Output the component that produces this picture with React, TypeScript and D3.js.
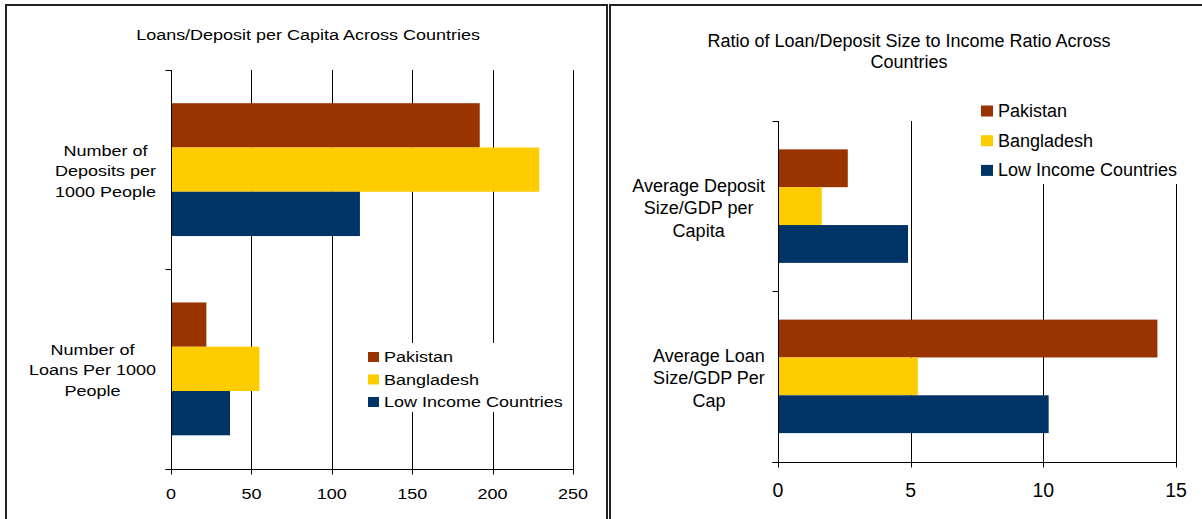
import React from "react";
import * as d3 from "d3";

// ---- data ----
const series = ["Pakistan", "Bangladesh", "Low Income Countries"];
const seriesColors = ["#993300", "#FFCC00", "#003366"];

const leftTitle = ["Loans/Deposit per Capita Across Countries"];
const leftCategories = ["Deposits", "Loans"];
const leftCategoryLines = [
  ["Number of", "Deposits per", "1000 People"],
  ["Number of", "Loans Per 1000", "People"],
];
const leftPakistan = [192, 22];
const leftBangladesh = [229, 55];
const leftLowIncome = [117.5, 36.7];
const leftTicks = [0, 50, 100, 150, 200, 250];

const rightTitle = ["Ratio of Loan/Deposit Size to Income Ratio Across", "Countries"];
const rightCategories = ["Deposit", "Loan"];
const rightCategoryLines = [
  ["Average Deposit", "Size/GDP per", "Capita"],
  ["Average Loan", "Size/GDP Per", "Cap"],
];
const rightPakistan = [2.63, 14.3];
const rightBangladesh = [1.65, 5.27];
const rightLowIncome = [4.9, 10.2];
const rightTicks = [0, 5, 10, 15];

const FONT = "'Liberation Sans', Arial, Helvetica, sans-serif";

let _ctx: CanvasRenderingContext2D | null = null;
function measure(text: string, size: number) {
  if (!_ctx) _ctx = document.createElement("canvas").getContext("2d");
  if (!_ctx) return text.length * size * 0.5;
  _ctx.font = `${size}px "Liberation Sans", Arial, sans-serif`;
  return _ctx.measureText(text).width;
}

function T({ x, y, sy, size, anchor = "start", children }: any) {
  return (
    <g transform={`translate(${x},${y}) scale(1,${sy})`}>
      <text x={0} y={0} fontSize={size} textAnchor={anchor} dominantBaseline="central" fill="#000" fontFamily={FONT}>
        {children}
      </text>
    </g>
  );
}

function Chart({ cats, catLines, values, ticks, title, L }: any) {
  const x = d3.scaleLinear().domain([ticks[0], ticks[ticks.length - 1]]).range([L.x0, L.x1]);
  const y = d3.scaleBand<string>().domain(cats).range([L.y0, L.y1]).padding(0);
  const sub = d3.scaleBand<string>().domain(series).range([0, y.bandwidth()]).paddingInner(0).paddingOuter(0.75);
  const px = (v: number) => Math.round(x(v)) + 0.5;
  const bottom = Math.round(L.y1) + 0.5;
  const catTicks = [L.y0, ...cats.map((c: string) => (y(c) as number) + y.bandwidth()).slice(0, -1), L.y1].map((v: number) => Math.round(v) + 0.5);
  return (
    <g>
      {/* gridlines */}
      {ticks.slice(1).map((t: number) => (
        <line key={"g" + t} x1={px(t)} x2={px(t)} y1={Math.round(L.y0)} y2={bottom} stroke="#000" strokeWidth={1} />
      ))}
      {/* bars */}
      {cats.map((c: string, ci: number) =>
        series.map((s, si) => (
          <rect
            key={c + s}
            x={x(0) + 1}
            y={(y(c) as number) + (sub(s) as number)}
            width={Math.max(0, x(values[si][ci]) - x(0) - 1)}
            height={sub.bandwidth()}
            fill={seriesColors[si]}
          />
        ))
      )}
      {/* axes */}
      <line x1={px(0)} x2={px(0)} y1={Math.round(L.y0)} y2={bottom} stroke="#000" />
      {catTicks.map((v: number, i: number) => (
        <line key={"ct" + i} x1={px(0) - 6} x2={px(0)} y1={v} y2={v} stroke="#000" />
      ))}
      <line x1={px(0) - 6} x2={px(ticks[ticks.length - 1])} y1={bottom} y2={bottom} stroke="#000" />
      {ticks.map((t: number) => (
        <line key={"tk" + t} x1={px(t)} x2={px(t)} y1={bottom} y2={bottom + 5} stroke="#000" />
      ))}
      {ticks.map((t: number) => (
        <T key={"tl" + t} x={x(t)} y={L.tickY} sy={L.sy} size={L.tickSize} anchor="middle">
          {String(t)}
        </T>
      ))}
      {/* category labels */}
      {cats.map((c: string, ci: number) => {
        const lines = catLines[ci];
        const w = Math.max(...lines.map((l: string) => measure(l, L.catSize)));
        const cx = L.catRight - w / 2;
        const cy = (y(c) as number) + y.bandwidth() / 2 + L.catOffset;
        return lines.map((l: string, li: number) => (
          <T key={c + li} x={cx} y={cy + (li - (lines.length - 1) / 2) * L.catStep} sy={L.sy} size={L.catSize} anchor="middle">
            {l}
          </T>
        ));
      })}
      {/* title */}
      {title.map((t: string, i: number) => (
        <T key={"ti" + i} x={L.titleX} y={L.titleY[i]} sy={L.sy} size={L.titleSize} anchor="middle">
          {t}
        </T>
      ))}
      {/* legend */}
      <rect x={L.lg.x} y={L.lg.y} width={L.lg.w} height={L.lg.h} fill="#fff" />
      {series.map((s, i) => (
        <g key={"lg" + s}>
          <rect
            x={L.lg.swX}
            y={L.lg.itemY0 + i * L.lg.step - L.lg.swH / 2}
            width={L.lg.swW}
            height={L.lg.swH}
            fill={seriesColors[i]}
          />
          <T x={L.lg.txtX} y={L.lg.itemY0 + i * L.lg.step} sy={L.sy} size={L.lg.size}>
            {s}
          </T>
        </g>
      ))}
    </g>
  );
}

const leftLayout = {
  x0: 171, x1: 573, y0: 70, y1: 468.5, sy: 0.86,
  tickY: 493.5, tickSize: 18,
  catRight: 156, catSize: 18, catStep: 20.5, catOffset: 1.5,
  titleX: 308, titleY: [34.5], titleSize: 18,
  lg: { x: 361, y: 343, w: 211, h: 69, swX: 368, swW: 11, swH: 10, txtX: 384, itemY0: 357, step: 22.5, size: 18 },
};

const rightLayout = {
  x0: 778, x1: 1176, y0: 121, y1: 461.5, sy: 1,
  tickY: 490, tickSize: 19.5,
  catRight: 765, catSize: 18, catStep: 22.5, catOffset: 2,
  titleX: 909, titleY: [40.5, 62], titleSize: 18,
  lg: { x: 975, y: 94, w: 220, h: 90, swX: 981, swW: 12, swH: 11, txtX: 998, itemY0: 111, step: 29.7, size: 18 },
};

export default function App() {
  return (
    <div style={{ position: "absolute", left: 0, top: 0 }}>
      <svg width={1202} height={519} style={{ display: "block", background: "#fff" }}>
        <rect x={0} y={0} width={1202} height={519} fill="#fff" />
        {/* panel frames */}
        <path d="M6,525 V5 H607 V525" fill="none" stroke="#222" strokeWidth={2} />
        <path d="M610,525 V5 H1210" fill="none" stroke="#222" strokeWidth={2} />
        <Chart
          cats={leftCategories}
          catLines={leftCategoryLines}
          values={[leftPakistan, leftBangladesh, leftLowIncome]}
          ticks={leftTicks}
          title={leftTitle}
          L={leftLayout}
        />
        <Chart
          cats={rightCategories}
          catLines={rightCategoryLines}
          values={[rightPakistan, rightBangladesh, rightLowIncome]}
          ticks={rightTicks}
          title={rightTitle}
          L={rightLayout}
        />
      </svg>
    </div>
  );
}
